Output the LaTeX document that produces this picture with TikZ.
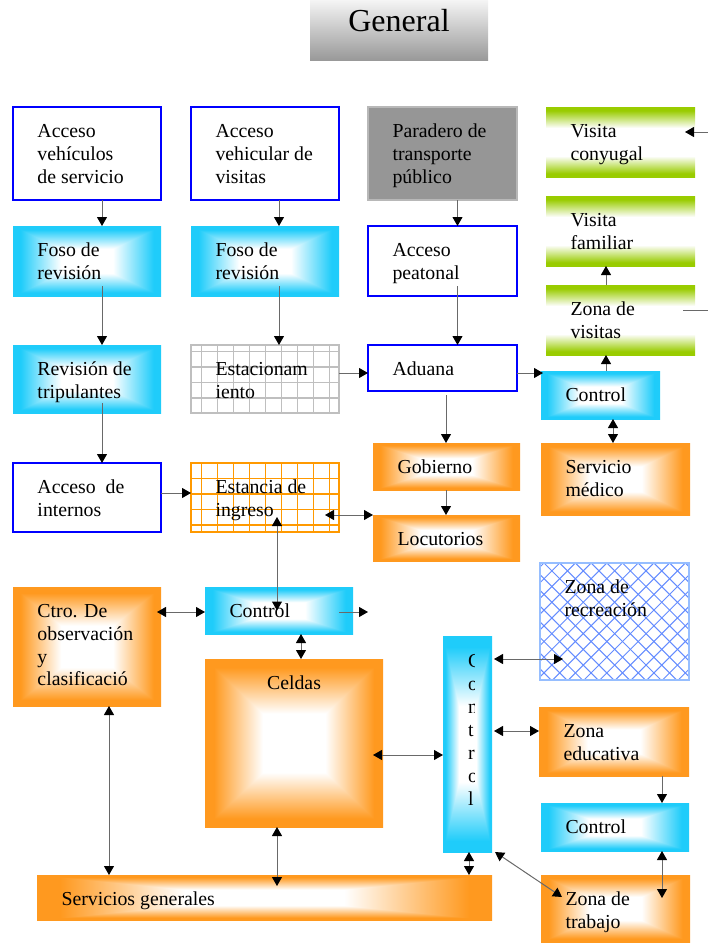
\documentclass[tikz,border=0pt]{standalone}
\usepackage{fontspec}
\setmainfont{Liberation Serif}
\usetikzlibrary{arrows.meta,calc}
\definecolor{ogrid}{RGB}{255,153,0}
\definecolor{hatchb}{RGB}{150,190,255}
\definecolor{hatchl}{RGB}{100,140,255}
\definecolor{conn}{RGB}{105,105,105}
\newcommand\mkrect[4]{\pgfdeclarefunctionalshading{#1}{\pgfpointorigin}{\pgfpoint{100bp}{100bp}}{}{50 sub abs exch 50 sub abs 2 copy lt {exch} if pop 25 div 0.35 sub 0.55 div dup 0 lt {pop 0} if dup 1 gt {pop 1} if dup #2 mul 1 exch sub exch dup #3 mul 1 exch sub exch #4 mul 1 exch sub}}
\mkrect{rectcyan}{0.88}{0.2}{0.02}
\mkrect{rectorange}{0}{0.4}{0.88}
\pgfdeclarefunctionalshading{vgreen}{\pgfpointorigin}{\pgfpoint{100bp}{100bp}}{}{exch pop 50 sub abs 25 div 0.4 sub 0.5 div dup 0 lt {pop 0} if dup 1 gt {pop 1} if dup 0.4 mul 1 exch sub exch dup 0.2 mul 1 exch sub exch 1 mul 1 exch sub}
\newcommand\tlines[1]{\begin{tabular}[t]{@{}l@{}}#1\end{tabular}}
\newcommand\bx[6]{\node[#2, minimum width=#5pt-#3pt, minimum height=#6pt-#4pt] (#1) at (#3,#4) {};}
\newcommand\tx[3]{\node[txt, anchor=base west] (#1) at ([shift={(24.5,30.5)}]#2.north west) {\tlines{#3}};}
\tikzset{
  box/.style={inner sep=0pt, outer sep=0pt, anchor=north west},
  bluebox/.style={box, draw=blue, line width=2pt, fill=white},
  cyanbox/.style={box, shade, shading=rectcyan},
  orbox/.style={box, shade, shading=rectorange},
  grbox/.style={box, shade, shading=vgreen},
  parbox/.style={box, fill=black!41, draw=black!28, line width=2pt},
  estbox/.style={box, draw=black!25, line width=1.5pt, fill=white},
  eibox/.style={box, draw=ogrid, line width=1.5pt, fill=white},
  zrbox/.style={box, draw=hatchb, line width=2pt, fill=white},
  txt/.style={inner sep=0pt, outer sep=0pt, font=\fontsize{19.8}{22.8}\selectfont},
  tipx/.tip={Triangle[width=10pt,length=9pt,color=black]},
  arr/.style={draw=conn, line width=1pt, -tipx},
  darr/.style={draw=conn, line width=1pt, tipx-tipx},
  plain/.style={draw=conn, line width=1pt},
}
\begin{document}
\begin{tikzpicture}[x=1pt,y=-1pt]
\useasboundingbox (0,0) rectangle (708,943);
% title
\node[box, shade, top color=black!4, bottom color=black!40, minimum width=178pt, minimum height=60pt] (gen) at (310,0) {};
\node[font=\fontsize{32}{38}\selectfont, anchor=base, inner sep=0pt] (gent) at ([yshift=-31.5]gen.north) {General};
% boxes
\bx{avs}{bluebox}{13}{107}{161}{200}
\bx{avv}{bluebox}{191}{107}{339}{200}
\bx{par}{parbox}{368}{107}{517}{200}
\bx{vc}{grbox}{546}{107}{695}{177}
\bx{f1}{cyanbox}{13}{226}{161}{296}
\bx{f2}{cyanbox}{191}{226}{339}{296}
\bx{ap}{bluebox}{368}{226}{517}{296}
\bx{vf}{grbox}{546}{196}{695}{266}
\bx{zv}{grbox}{546}{285}{695}{355}
\bx{rt}{cyanbox}{13}{345}{161}{413}
\bx{est}{estbox}{191}{345}{339}{413}
\bx{adu}{bluebox}{368}{345}{517}{391}
\bx{c1}{cyanbox}{541}{371}{660}{419}
\bx{gob}{orbox}{373}{443}{520}{490}
\bx{sm}{orbox}{541}{443}{690}{515}
\bx{ai}{bluebox}{13}{463}{161}{532}
\bx{ei}{eibox}{191}{463}{339}{532}
\bx{loc}{orbox}{373}{515}{520}{561}
\bx{ctro}{orbox}{13}{587}{161}{706}
\bx{c2}{cyanbox}{205}{587}{353}{634}
\bx{cel}{orbox}{205}{659}{383}{827}
\bx{zr}{zrbox}{540}{563}{689}{680}
\bx{cv}{cyanbox}{443}{636}{492}{852}
\bx{ze}{orbox}{539}{707}{689}{776}
\bx{c3}{cyanbox}{541}{803}{689}{851}
\bx{zt}{orbox}{541}{875}{690}{942}
\bx{sg}{orbox}{37}{875}{492}{920}
% grids
\begin{scope}
\clip (est.north west) rectangle (est.south east);
\foreach \i in {0,...,8} \draw[black!25, line width=1.5pt] ([xshift=10.7+16*\i]est.north west) -- ++(0,68);
\foreach \j in {0,...,3} \draw[black!25, line width=1.5pt] ([yshift=-6.7-15.5*\j]est.north west) -- ++(148,0);
\end{scope}
\begin{scope}
\clip (ei.north west) rectangle (ei.south east);
\foreach \i in {0,...,8} \draw[ogrid, line width=1.5pt] ([xshift=10.7+16*\i]ei.north west) -- ++(0,69);
\foreach \j in {0,...,3} \draw[ogrid, line width=1.5pt] ([yshift=-15.3-15.5*\j]ei.north west) -- ++(148,0);
\end{scope}
\begin{scope}
\clip (zr.north west) rectangle (zr.south east);
\foreach \i in {-8,...,18} {
  \draw[hatchl, line width=1pt] ([xshift=4+15.7*\i]zr.north west) -- ++(125,125);
  \draw[hatchl, line width=1pt] ([xshift=4+15.7*\i]zr.north west) -- ++(-125,125);
}
\end{scope}
\draw[hatchb, line width=2pt] (zr.north west) rectangle (zr.south east);
% texts
\tx{avst}{avs}{Acceso\\vehículos\\de servicio}
\tx{avvt}{avv}{Acceso\\vehicular de\\visitas}
\tx{part}{par}{Paradero de\\transporte\\público}
\tx{vct}{vc}{Visita\\conyugal}
\tx{f1t}{f1}{Foso de\\revisión}
\tx{f2t}{f2}{Foso de\\revisión}
\tx{apt}{ap}{Acceso\\peatonal}
\tx{vft}{vf}{Visita\\familiar}
\tx{zvt}{zv}{Zona de\\visitas}
\tx{rtt}{rt}{Revisión de\\tripulantes}
\tx{estt}{est}{Estacionam\\iento}
\tx{adut}{adu}{Aduana}
\tx{c1t}{c1}{Control}
\tx{gobt}{gob}{Gobierno}
\tx{smt}{sm}{Servicio\\médico}
\tx{ait}{ai}{Acceso~ de\\internos}
\tx{eit}{ei}{Estancia de\\ingreso}
\tx{loct}{loc}{Locutorios}
\tx{ctrot}{ctro}{Ctro. De\\observación\\y\\clasificació}
\tx{c2t}{c2}{Control}
\node[txt, anchor=base] (celt) at ([yshift=-30]cel.north) {Celdas};
\tx{zrt}{zr}{Zona de\\recreación}
\tx{zet}{ze}{Zona\\educativa}
\tx{c3t}{c3}{Control}
\tx{ztt}{zt}{Zona de\\trabajo}
\tx{sgt}{sg}{Servicios generales}
\begin{scope}
\clip (cv.north west) rectangle ([xshift=-17.5]cv.south east);
\node[txt, anchor=base west, font=\fontsize{19.8}{23}\selectfont] (cvt) at ([shift={(25,31)}]cv.north west) {\tlines{C\\o\\n\\t\\r\\o\\l}};
\end{scope}
% connectors
\draw[arr] ([xshift=15]avs.south) -- ([xshift=15]f1.north);
\draw[arr] ([xshift=14]avv.south) -- ([xshift=14]f2.north);
\draw[arr] ([xshift=15]par.south) -- ([xshift=15]ap.north);
\draw[arr] ([xshift=15,yshift=10]f1.south) -- ([xshift=15]rt.north);
\draw[arr] ([xshift=14,yshift=10]f2.south) -- ([xshift=14]est.north);
\draw[arr] ([xshift=15,yshift=10]ap.south) -- ([xshift=15]adu.north);
\draw[arr] ([yshift=6]est.east) -- ([yshift=-5]adu.west);
\draw[arr] ([yshift=-5]adu.east) -- ([xshift=2,yshift=22]c1.west);
\draw[arr] ([xshift=5.5]c1.north) -- ([xshift=-14.5]zv.south);
\draw[arr] ([xshift=-14.5]zv.north) -- ([xshift=-14.5]vf.south);
\coordinate (vcin) at (708,132);
\draw[arr] (vcin) -- ([xshift=-10,yshift=10]vc.east);
\coordinate (zvout) at (708,310);
\draw[plain] ([xshift=-12,yshift=10]zv.east) -- (zvout);
\draw[darr] ([xshift=12.5]c1.south) -- ([xshift=-2.5]sm.north);
\draw[arr] ([xshift=3.5,yshift=-4]adu.south) -- ([xshift=-0.5]gob.north);
\draw[arr] ([xshift=-0.5]gob.south) -- ([xshift=-0.5]loc.north);
\draw[arr] ([xshift=15,yshift=10]rt.south) -- ([xshift=15]ai.north);
\draw[arr] ([yshift=4.5]ai.east) -- ([yshift=4.5]ei.west);
\draw[darr] ([xshift=-14,yshift=-17.5]ei.east) -- ([yshift=23]loc.west);
\draw[darr] ([xshift=12,yshift=-19.5]ei.center) -- ([xshift=-2]c2.center);
\draw[darr] ([xshift=-4,yshift=34.5]ctro.east) -- ([yshift=-1.5]c2.west);
\coordinate (c2out) at (368,612);
\draw[arr] ([xshift=-14,yshift=-1.5]c2.east) -- (c2out);
\draw[darr] ([xshift=22]c2.south) -- ([xshift=7]cel.north);
\draw[darr] ([xshift=-10,yshift=-12]cel.east) -- ([yshift=-11]cv.west);
\draw[darr] ([xshift=2,yshift=85]cv.east) -- ([xshift=23,yshift=-37.5]zr.west);
\draw[darr] ([xshift=2,yshift=13]cv.east) -- ([yshift=10.5]ze.west);
\draw[arr] ([xshift=48]ze.south) -- ([xshift=47]c3.north);
\draw[darr] ([xshift=47]c3.south) -- ([xshift=46.5,yshift=10.5]zt.center);
\draw[darr] ([xshift=3]cv.south east) -- ([xshift=21,yshift=-22]zt.north west);
\draw[darr] ([xshift=1.5]cv.south) -- ([xshift=204.5]sg.north);
\draw[darr] ([xshift=-17]cel.south) -- ([xshift=12.5,yshift=-11]sg.north);
\draw[darr] ([xshift=22]ctro.south) -- ([xshift=-155.5]sg.north);
\end{tikzpicture}
\end{document}
